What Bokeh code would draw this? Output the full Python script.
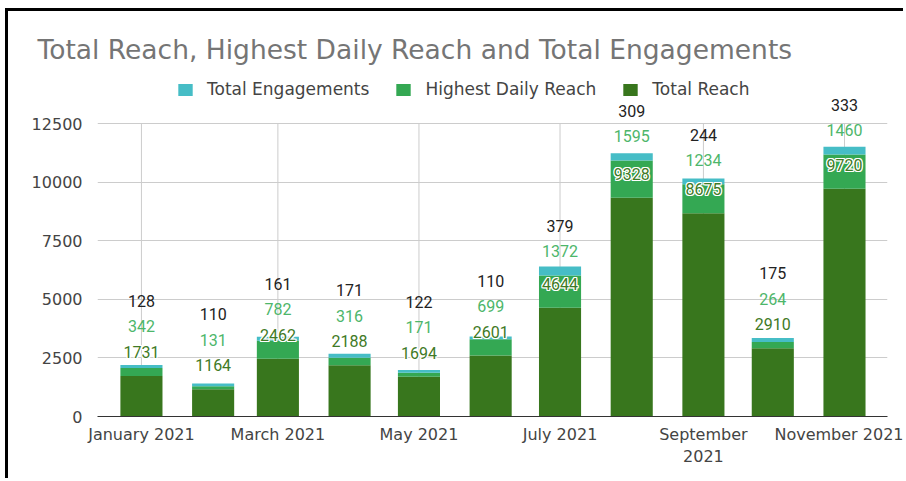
import pandas as pd
from bokeh.plotting import figure
from bokeh.models import ColumnDataSource, Range1d, FixedTicker, Legend, LegendItem
from bokeh.core.properties import value
from bokeh.embed import file_html
from bokeh.resources import INLINE

# ---------------- data ----------------
months = ["2021-01", "2021-02", "2021-03", "2021-04", "2021-05", "2021-06",
          "2021-07", "2021-08", "2021-09", "2021-10", "2021-11"]
total_reach = [1731, 1164, 2462, 2188, 1694, 2601, 4644, 9328, 8675, 2910, 9720]
highest_daily_reach = [342, 131, 782, 316, 171, 699, 1372, 1595, 1234, 264, 1460]
total_engagements = [128, 110, 161, 171, 122, 110, 379, 309, 244, 175, 333]

tick_months = ["2021-01", "2021-03", "2021-05", "2021-07", "2021-09", "2021-11"]
tick_labels = ["January 2021", "March 2021", "May 2021", "July 2021",
               "September\n2021", "November 2021"]
y_ticks = [0, 2500, 5000, 7500, 10000, 12500]

title_text = "Total Reach, Highest Daily Reach and Total Engagements"
series_names = ["Total Reach", "Highest Daily Reach", "Total Engagements"]
series_colors = ["#38761d", "#34a853", "#46bdc6"]
label_colors = ["#3f7a26", "#4db66a", "#222222"]

# ---------------- layout constants ----------------
MS_DAY = 86400000.0
W, H = 898, 470
FL, FR, FT, FB = 89, 879, 58, 405       # frame edges on canvas
FRAME_H = FB - FT
PX_PER_UNIT = 293.0 / 12500.0
Y_END = FRAME_H / PX_PER_UNIT
LABEL_GAP = 24.0      # px above segment top
LABEL_STEP = 25.5     # min px between stacked labels

def to_ms(s):
    return pd.Timestamp(s + "-01").value / 1e6

x = [to_ms(m) for m in months]
tick_x = [to_ms(m) for m in tick_months]

src = ColumnDataSource(dict(x=x, reach=total_reach, high=highest_daily_reach,
                            eng=total_engagements))

x_start = to_ms("2021-01") - 19.0 * MS_DAY
x_end = to_ms("2021-11") + 18.6 * MS_DAY

p = figure(width=W, height=H, x_axis_type="datetime",
           x_range=Range1d(x_start, x_end), y_range=Range1d(0, Y_END),
           output_backend="svg", toolbar_location=None,
           min_border_left=FL, min_border_right=W - FR,
           min_border_top=FT, min_border_bottom=H - FB,
           margin=(8, 0, 0, 5),
           styles={"border-top": "3px solid #000", "border-left": "3px solid #000"})
p.outline_line_color = None
p.background_fill_color = "white"
p.border_fill_color = "white"

# title
p.title.text = title_text
p.title.align = "left"
p.title.offset = 37 - 97
p.title.standoff = 9
p.title.text_font = "DejaVu Sans"
p.title.text_font_size = "26.5px"
p.title.text_font_style = "normal"
p.title.text_color = "#757575"

# vertical grid lines (only within the tick range)
p.xgrid.visible = False
p.segment(x0=tick_x, y0=[y_ticks[0]] * len(tick_x), x1=tick_x,
          y1=[y_ticks[-1]] * len(tick_x), line_color="#cccccc", line_width=1,
          level="underlay")
p.ygrid.grid_line_color = "#cccccc"
p.ygrid.ticker = FixedTicker(ticks=y_ticks)

# bars
renderers = p.vbar_stack(["reach", "high", "eng"], x="x", width=18.2 * MS_DAY,
                         source=src, color=series_colors, line_color=None)

# data labels with google-style collision push-up
cum = [total_reach,
       [a + b for a, b in zip(total_reach, highest_daily_reach)],
       [a + b + c for a, b, c in zip(total_reach, highest_daily_reach, total_engagements)]]
vals = [total_reach, highest_daily_reach, total_engagements]
offs = [[], [], []]
for i in range(len(months)):
    prev = None
    for k in range(3):
        top_px = cum[k][i] * PX_PER_UNIT
        want = top_px + LABEL_GAP
        if prev is not None:
            want = max(want, prev + LABEL_STEP)
        prev = want
        offs[k].append(-(want - top_px))

text_kw = dict(text_font=value("Roboto"), text_font_size="16px",
               text_align="center", text_baseline="middle")

# white halo behind the Total Reach labels
for dx, dy in [(-1, -1), (0, -1), (1, -1), (-1, 0), (1, 0), (-1, 1), (0, 1), (1, 1)]:
    hs = ColumnDataSource(dict(x=x, y=cum[0], t=[str(v) for v in vals[0]],
                               off=[o + dy for o in offs[0]]))
    p.text(x="x", y="y", text="t", source=hs, x_offset=dx, y_offset="off",
           text_color="white", **text_kw)

for k in range(3):
    lsrc = ColumnDataSource(dict(x=x, y=cum[k], t=[str(v) for v in vals[k]], off=offs[k]))
    p.text(x="x", y="y", text="t", y_offset="off", source=lsrc,
           text_color=label_colors[k], **text_kw)

# axes
p.yaxis.ticker = FixedTicker(ticks=y_ticks)
p.yaxis.axis_line_color = None
p.yaxis.major_tick_line_color = None
p.yaxis.minor_tick_line_color = None
p.yaxis.major_label_standoff = 9
p.yaxis.major_label_text_font = "DejaVu Sans"
p.yaxis.major_label_text_font_size = "16px"
p.yaxis.major_label_text_color = "#444444"

p.xaxis.ticker = FixedTicker(ticks=tick_x)
p.xaxis.major_label_overrides = {t: l for t, l in zip(tick_x, tick_labels)}
p.xaxis.axis_line_color = "#333333"
p.xaxis.axis_line_width = 1.2
p.xaxis.major_tick_line_color = None
p.xaxis.minor_tick_line_color = None
p.xaxis.major_label_standoff = 2
p.xaxis.major_label_text_font = "DejaVu Sans"
p.xaxis.major_label_text_font_size = "16px"
p.xaxis.major_label_text_color = "#444444"

# legend
items = [LegendItem(label=series_names[2], renderers=[renderers[2]]),
         LegendItem(label=series_names[1], renderers=[renderers[1]]),
         LegendItem(label=series_names[0], renderers=[renderers[0]])]
legend = Legend(items=items, orientation="horizontal", location=(176 - 97, 317),
                glyph_width=18, glyph_height=15, label_standoff=13, spacing=25,
                padding=0, margin=0, border_line_color=None, background_fill_alpha=0,
                label_text_font="DejaVu Sans", label_text_font_size="17px",
                label_text_color="#444444")
p.add_layout(legend)

open("out.html", "w").write(file_html(p, INLINE))
